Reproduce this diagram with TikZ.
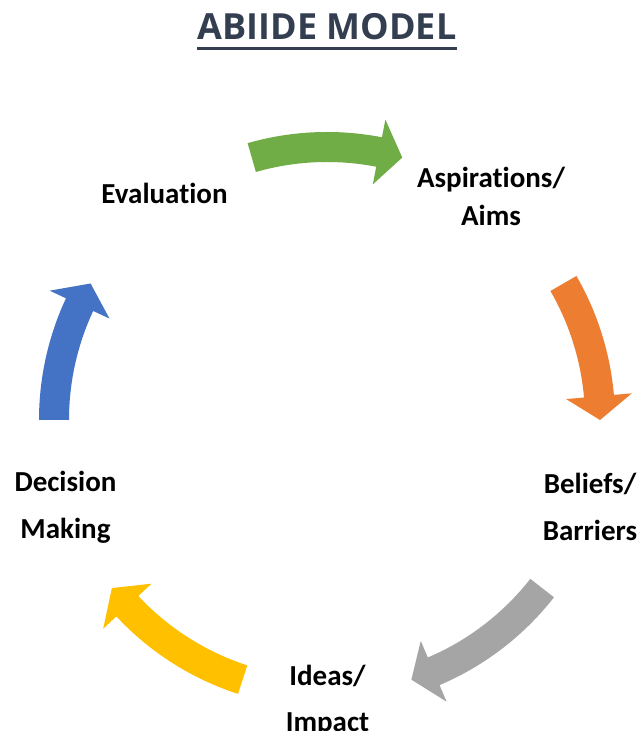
\documentclass[tikz,border=0pt]{standalone}
\usepackage{fontspec}
\setmainfont{Carlito}[Ligatures={NoCommon}]
\newfontfamily\abTitleFont{Open Sans}
\definecolor{titlecol}{HTML}{333F50}
\definecolor{abgreen}{HTML}{70AD47}
\definecolor{aborange}{HTML}{ED7D31}
\definecolor{abgray}{HTML}{A5A5A5}
\definecolor{abyellow}{HTML}{FFC000}
\definecolor{abblue}{HTML}{4472C4}
% cycle arrow: colour, tail angle, head-base angle, tip angle
\newcommand\abArrow[4]{%
  \fill[#1] ([shift={(C)}]#2:288pt) arc[start angle=#2, end angle=#3, radius=288pt]
    -- ([shift={(C)}]#3:306pt) -- ([shift={(C)}]#4:273pt) -- ([shift={(C)}]#3:240pt)
    -- ([shift={(C)}]#3:258pt) arc[start angle=#3, end angle=#2, radius=258pt] -- cycle;}
\begin{document}
\begin{tikzpicture}[x=1pt,y=1pt,
  lbl/.style={font=\fontsize{29}{47}\selectfont\bfseries, align=center, anchor=base, inner sep=0pt},
  lblnarrow/.style={lbl, font=\fontsize{29}{38}\selectfont\bfseries}]
\useasboundingbox (0,0) rectangle (641,731);
\fill[white] (0,0) rectangle (641,731);
\coordinate (C) at (327,311);

\node[font=\abTitleFont\bfseries\fontsize{36}{40}\selectfont, text=titlecol, anchor=base, inner sep=0pt] (title) at (327,691) {ABIIDE MODEL};
\draw[titlecol, line width=3pt] ([yshift=-9pt]title.base west) -- ([yshift=-9pt]title.base east);

\abArrow{abgreen}{106}{79}{74}
\abArrow{aborange}{30}{5}{0}
\abArrow{abgray}{-38}{-67}{-72}
\abArrow{abyellow}{-108}{-137}{-142}
\abArrow{abblue}{180}{155}{150}

\node[lbl] (eval) at (164.5,527) {Evaluation};
\node[lblnarrow] (asp) at (491,505) {Aspirations/\\Aims};
\node[lbl] (bel) at (590,190) {Beliefs/\\Barriers};
\node[lbl] (ideas) at (327.5,-1) {Ideas/\\Impact};
\node[lbl] (dec) at (65.5,192) {Decision\\Making};
\end{tikzpicture}
\end{document}
